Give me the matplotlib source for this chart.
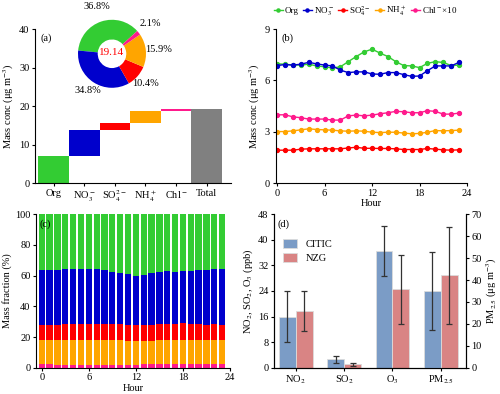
import numpy as np
import matplotlib.pyplot as plt

plt.rcParams['font.family'] = ['Liberation Serif', 'DejaVu Serif']
plt.rcParams['mathtext.fontset'] = 'stix'
plt.rcParams['font.size'] = 7.5
plt.rcParams['xtick.major.size'] = 2.5
plt.rcParams['ytick.major.size'] = 2.5
plt.rcParams['xtick.major.pad'] = 1.5
plt.rcParams['ytick.major.pad'] = 1.5

# species
species = ['Org', 'NO$_3^-$', 'SO$_4^{2-}$', 'NH$_4^+$', 'Chl$^-$']
colors = ['#33cc33', '#0000cc', '#ff0000', '#ffa500', '#ff1a8c']
pie_pct = [36.8, 34.8, 10.4, 15.9, 2.1]
total_mass = 19.14
mean_conc = [7.04, 6.66, 1.99, 3.04, 0.40]

# diurnal (hour 0..23)
hours = np.arange(24)
org = [6.97, 6.95, 6.90, 6.90, 6.95, 6.85, 6.80, 6.73, 6.80, 7.10, 7.40, 7.67,
       7.83, 7.60, 7.40, 7.10, 6.87, 6.85, 6.75, 7.00, 7.10, 7.05, 6.87, 6.90]
no3 = [6.87, 6.93, 6.90, 6.95, 7.06, 6.97, 6.90, 6.85, 6.60, 6.46, 6.50, 6.50,
       6.38, 6.36, 6.46, 6.46, 6.34, 6.24, 6.26, 6.57, 6.85, 6.85, 6.85, 7.06]
so4 = [1.92, 1.92, 1.92, 1.98, 2.00, 2.00, 2.00, 2.00, 2.00, 2.05, 2.09, 2.03,
       2.03, 2.02, 2.02, 2.00, 1.96, 1.96, 1.96, 2.02, 1.98, 1.94, 1.92, 1.94]
nh4 = [3.01, 3.01, 3.05, 3.11, 3.17, 3.13, 3.11, 3.09, 3.05, 3.03, 3.05, 3.03,
       2.97, 2.95, 2.97, 2.97, 2.92, 2.88, 2.90, 2.97, 3.07, 3.05, 3.07, 3.09]
chl10 = [3.99, 3.99, 3.87, 3.82, 3.74, 3.74, 3.74, 3.68, 3.68, 3.93, 3.97, 3.93,
         3.97, 4.05, 4.11, 4.19, 4.17, 4.11, 4.11, 4.23, 4.19, 4.03, 4.03, 4.09]

# panel d
gas_labels = ['NO$_2$', 'SO$_2$', 'O$_3$', 'PM$_{2.5}$']
citic_gas = [16.0, 2.6, 36.5]
citic_gas_err = [7.9, 1.0, 7.8]
nzg_gas = [17.8, 1.0, 24.5]
nzg_gas_err = [6.3, 0.35, 10.7]
citic_pm, citic_pm_err = 35.0, 17.7
nzg_pm, nzg_pm_err = 42.2, 22.1
c_citic = '#7b9cc6'
c_nzg = '#d98484'

fig = plt.figure(figsize=(5, 3.94), dpi=100)
axa = fig.add_axes([0.070, 0.5355, 0.392, 0.3905])
axb = fig.add_axes([0.551, 0.5355, 0.383, 0.3905])
axc = fig.add_axes([0.072, 0.0668, 0.388, 0.3893])
axd = fig.add_axes([0.548, 0.0668, 0.384, 0.3893])

for ax in [axa, axb, axc]:
    ax.spines['top'].set_visible(False)
    ax.spines['right'].set_visible(False)

# ---- (a) waterfall + donut
bottoms = np.concatenate([[0], np.cumsum(mean_conc)[:-1]])
axa.bar(range(5), mean_conc, bottom=bottoms, width=1.0, color=colors)
axa.bar(5, total_mass, width=1.0, color='#808080')
axa.set_xlim(-0.61, 5.8)
axa.set_ylim(0, 40)
axa.set_yticks([0, 10, 20, 30, 40])
axa.set_xticks(range(6))
axa.set_xticklabels(species + ['Total'])
axa.set_ylabel('Mass conc (μg m$^{-3}$)', labelpad=2)
axa.text(0.03, 0.97, '(a)', transform=axa.transAxes, va='top')

axp = fig.add_axes([0.156, 0.777, 0.136, 0.173])
wedges, _ = axp.pie(pie_pct, colors=colors, startangle=42, counterclock=True,
                    wedgeprops=dict(width=0.58, edgecolor='none'))
axp.set_xlim(-1, 1)
axp.set_ylim(-1, 1)
axp.set_aspect('equal')
lab_dist = [1.45, 1.28, 1.3, 1.38, 1.42]
for w, p, d in zip(wedges, pie_pct, lab_dist):
    ang = np.deg2rad((w.theta1 + w.theta2) / 2)
    axp.text(d * np.cos(ang), d * np.sin(ang), '%.1f%%' % p,
             ha='center', va='center', fontsize=7.5)
axp.text(0, 0.05, '%.2f' % total_mass, color='#ff0000', ha='center', va='center', fontsize=8)

# ---- (b) diurnal lines
series = [org, no3, so4, nh4, chl10]
names_b = ['Org', 'NO$_3^-$', 'SO$_4^{2-}$', 'NH$_4^+$', 'Chl$^-$×10']
for s, c, n in zip(series, colors, names_b):
    axb.plot(hours, s, '-o', color=c, ms=2.8, lw=1, label=n)
axb.set_xlim(-0.2, 24)
axb.set_ylim(0, 9)
axb.set_xticks([0, 6, 12, 18, 24])
axb.set_yticks([0, 3, 6, 9])
axb.set_xlabel('Hour', labelpad=1)
axb.set_ylabel('Mass conc (μg m$^{-3}$)', labelpad=2)
axb.text(0.03, 0.97, '(b)', transform=axb.transAxes, va='top')
axb.legend(ncol=5, loc='lower center', bbox_to_anchor=(0.47, 1.05), frameon=False,
           handlelength=1.0, handletextpad=0.25, columnspacing=0.45, borderaxespad=0,
           markerscale=0.8, fontsize=6.5)

# ---- (c) mass fraction stacked bars
arr = np.array([org, no3, so4, nh4, np.array(chl10) / 10.0])
frac = arr / arr.sum(axis=0) * 100
order = [4, 3, 2, 1, 0]
bot = np.zeros(24)
for i in order:
    axc.bar(hours, frac[i], bottom=bot, width=0.8, color=colors[i])
    bot += frac[i]
axc.set_xlim(-0.73, 24)
axc.set_ylim(0, 100)
axc.set_xticks([0, 6, 12, 18, 24])
axc.set_yticks([0, 20, 40, 60, 80, 100])
axc.set_xlabel('Hour', labelpad=1)
axc.set_ylabel('Mass fraction (%)', labelpad=2)
axc.text(0.02, 0.97, '(c)', transform=axc.transAxes, va='top')

# ---- (d) gases and PM2.5
w = 0.35
x = np.arange(3)
ekw = dict(ecolor='#333333', elinewidth=0.9, capsize=2.5, capthick=0.9)
axd.bar(x - w / 2, citic_gas, w, yerr=citic_gas_err, color=c_citic,
        edgecolor='#dcdcdc', linewidth=0.6, error_kw=ekw, label='CITIC')
axd.bar(x + w / 2, nzg_gas, w, yerr=nzg_gas_err, color=c_nzg,
        edgecolor='#dcdcdc', linewidth=0.6, error_kw=ekw, label='NZG')
axd.set_xlim(-0.45, 3.52)
axd.set_ylim(0, 48)
axd.set_yticks(np.arange(0, 49, 8))
axd.set_xticks(range(4))
axd.set_xticklabels(gas_labels)
axd.spines['top'].set_visible(False)
axd.set_ylabel('NO$_2$, SO$_2$, O$_3$ (ppb)', labelpad=2)
axd.text(0.02, 0.97, '(d)', transform=axd.transAxes, va='top')
axd.legend(loc='upper left', bbox_to_anchor=(0.0, 0.9), frameon=False,
           handlelength=1.3, handleheight=0.9, labelspacing=0.4, fontsize=7.5)

axr = axd.twinx()
axr.bar(3 - w / 2, citic_pm, w, yerr=citic_pm_err, color=c_citic,
        edgecolor='#dcdcdc', linewidth=0.6, error_kw=ekw)
axr.bar(3 + w / 2, nzg_pm, w, yerr=nzg_pm_err, color=c_nzg,
        edgecolor='#dcdcdc', linewidth=0.6, error_kw=ekw)
axr.set_ylim(0, 70)
axr.set_yticks(np.arange(0, 71, 10))
axr.spines['top'].set_visible(False)
axr.set_ylabel('PM$_{2.5}$ (μg m$^{-3}$)', labelpad=2)

fig.savefig('out.png', dpi=100)
